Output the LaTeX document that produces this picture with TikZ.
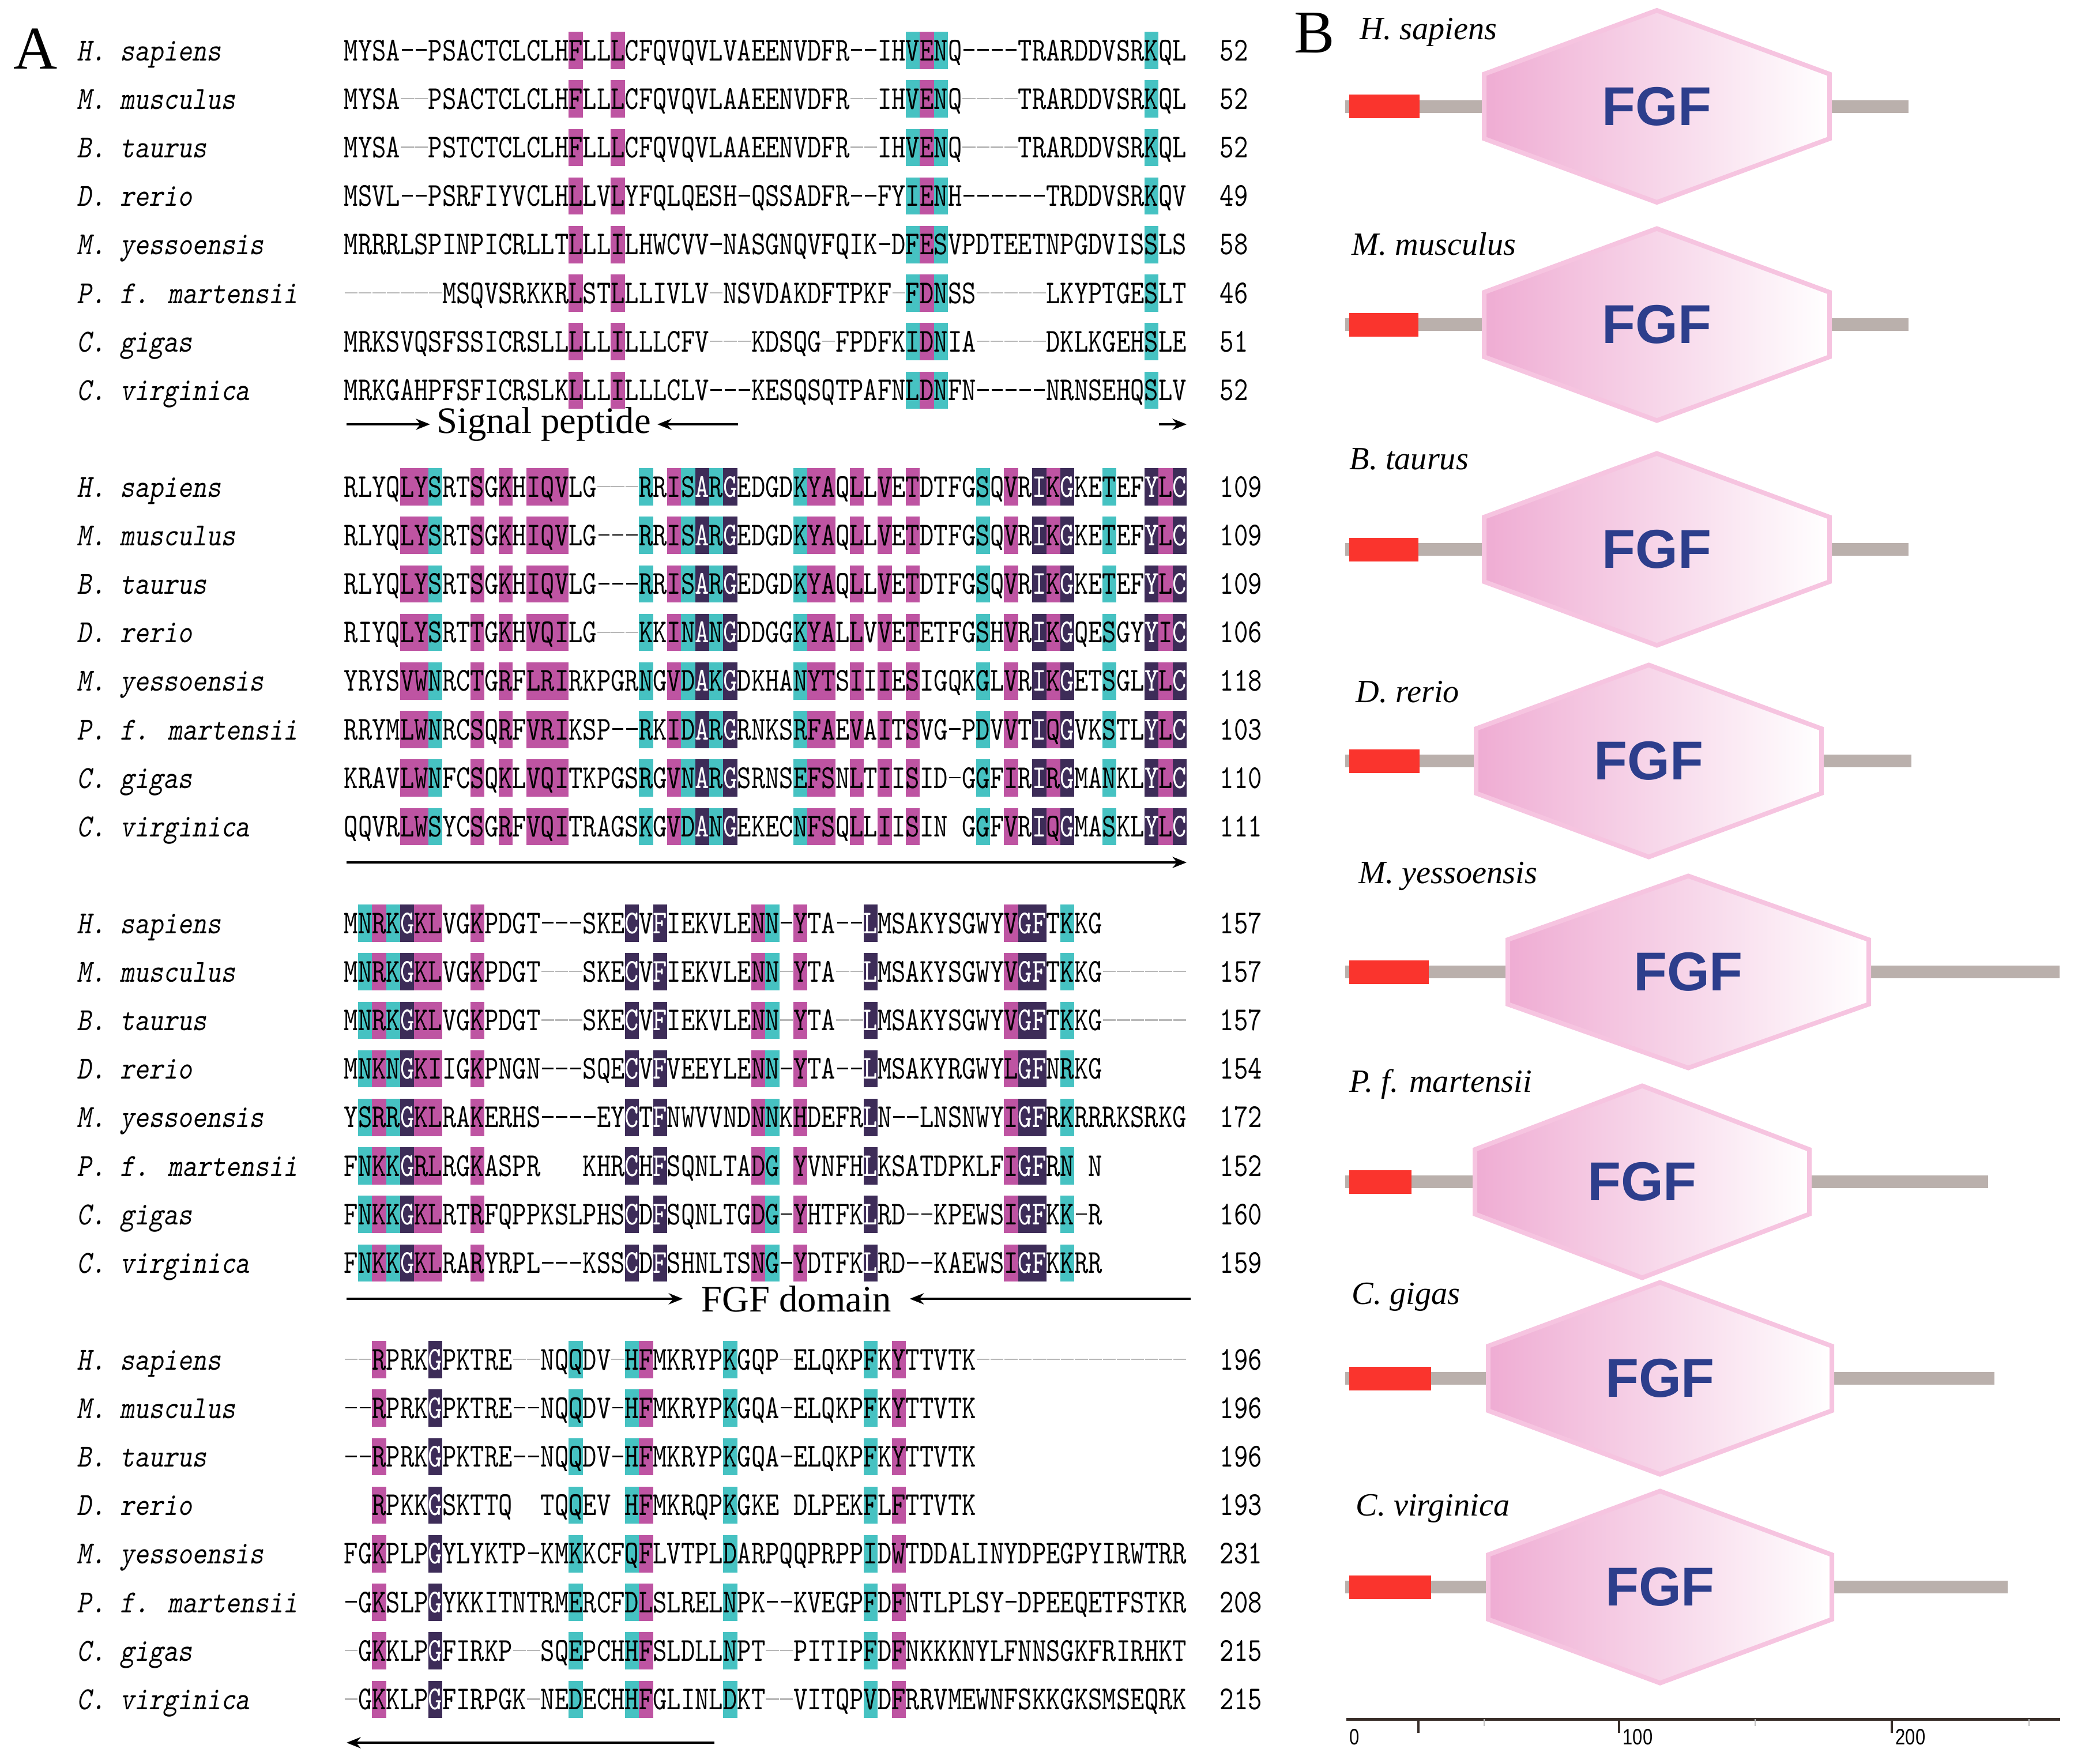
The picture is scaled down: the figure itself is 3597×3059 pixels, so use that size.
\documentclass[tikz,border=0pt]{standalone}
\usepackage{fontspec}
\setmainfont{Liberation Serif}
\newfontfamily\seqfam[FakeStretch=0.80]{lmmono10-regular.otf}
\newfontfamily\spfam[FakeStretch=0.85,FakeSlant=0.18]{lmmono10-regular.otf}
\newfontfamily\fgffam{Liberation Sans}
\newfontfamily\axfam[FakeStretch=0.8]{Liberation Sans}
\usetikzlibrary{arrows.meta}

\definecolor{hlmag}{RGB}{190,84,162}
\definecolor{hlcyan}{RGB}{70,194,194}
\definecolor{hlnavy}{RGB}{61,44,88}
\definecolor{sigred}{RGB}{250,52,45}
\definecolor{linkgrey}{RGB}{186,176,172}
\definecolor{hexpink}{RGB}{239,172,211}
\definecolor{hexedge}{RGB}{246,196,224}
\definecolor{fgfblue}{RGB}{45,62,140}
\definecolor{axisdark}{RGB}{55,45,40}

\newlength\cw
\setlength\fboxsep{0pt}
\newcommand\seqfont{\seqfam\fontsize{16.5pt}{16.5pt}\selectfont}
\newcommand\spfont{\spfam\fontsize{15.9pt}{16pt}\selectfont}
\newcommand\seqstrut{\rule[-4.2pt]{0pt}{18.4pt}}
\AtBeginDocument{\settowidth\cw{\seqfont M}\global\cw=\cw}
% highlighted residues
\newcommand\hlm[1]{\colorbox{hlmag}{\seqstrut#1}}
\newcommand\hlc[1]{\colorbox{hlcyan}{\seqstrut#1}}
\newcommand\hln[1]{\colorbox{hlnavy}{\seqstrut\textcolor{white}{#1}}}
% gaps
\newcommand\dk[1]{\cleaders\hbox to\cw{\hss\rule[4.8pt]{0.8\cw}{0.8pt}\hss}\hskip#1\cw\relax}
\newcommand\fg[1]{{\color{black!28}\cleaders\hbox to\cw{\hss\rule[4.8pt]{0.92\cw}{0.6pt}\hss}\hskip#1\cw\relax}}
\newcommand\bk[1]{\hskip#1\cw\relax}

\begin{document}
\begin{tikzpicture}[x=0.1mm,y=-0.1mm,
	seqrow/.style={anchor=base west,inner sep=0pt,font=\seqfont},
	seqnum/.style={anchor=base west,inner sep=0pt,font=\seqfont},
	spname/.style={anchor=base west,inner sep=0pt,font=\spfont},
	annot/.style={font=\fontsize{18.4pt}{20pt}\selectfont,inner ysep=0pt},
	annarrow/.style={line width=1.1pt,-{Stealth[length=7pt,width=5.5pt]}},
	panel/.style={font=\fontsize{30pt}{30pt}\selectfont,inner sep=0pt},
	bname/.style={anchor=base west,inner sep=0pt,font=\fontsize{16pt}{18pt}\selectfont\itshape},
	linker/.style={draw=linkgrey,line width=2.2mm},
	sigbox/.style={fill=sigred},
	hexdom/.style={draw=hexedge,line width=0.8mm,left color=hexpink,right color=white},
	fgflab/.style={font=\fgffam\bfseries\fontsize{27pt}{27pt}\selectfont,text=fgfblue},
	axisline/.style={draw=axisdark,line width=0.5mm},
	axistick/.style={draw=axisdark,line width=0.35mm},
	minortick/.style={draw=black!25,line width=0.2mm},
	axlab/.style={anchor=west,inner sep=0pt,font=\axfam\fontsize{11pt}{11pt}\selectfont}]
	\path[use as bounding box] (0,0) rectangle (3597,3059);

	% panel A
	\node[panel] (panA) at (62,85) {A};
	\foreach \blk in {0,1,2,3}
		\foreach \sp [count=\i from 0] in {H. sapiens,M. musculus,B. taurus,D. rerio,M. yessoensis,P. f. martensii,C. gigas,C. virginica}
			\node[spname] (name-\blk-\i) at (133,105+757*\blk+84.2*\i) {\sp};

	% block 1
	\node[seqrow] (b1r1) at (596,105) {MYSA\dk{2}PSACTCLCLH\hlm{F}LL\hlm{L}CFQVQVLVAEENVDFR\dk{2}IH\hlc{V}\hlm{E}\hlc{N}Q\dk{4}TRARDDVSR\hlc{K}QL};
	\node[seqrow] (b1r2) at (596,189.2) {MYSA\fg{2}PSACTCLCLH\hlm{F}LL\hlm{L}CFQVQVLAAEENVDFR\fg{2}IH\hlc{V}\hlm{E}\hlc{N}Q\fg{4}TRARDDVSR\hlc{K}QL};
	\node[seqrow] (b1r3) at (596,273.4) {MYSA\fg{2}PSTCTCLCLH\hlm{F}LL\hlm{L}CFQVQVLAAEENVDFR\fg{2}IH\hlc{V}\hlm{E}\hlc{N}Q\fg{4}TRARDDVSR\hlc{K}QL};
	\node[seqrow] (b1r4) at (596,357.6) {MSVL\dk{2}PSRFIYVCLH\hlm{L}LV\hlm{L}YFQLQESH\dk{1}QSSADFR\dk{2}FY\hlc{I}\hlm{E}\hlc{N}H\dk{6}TRDDVSR\hlc{K}QV};
	\node[seqrow] (b1r5) at (596,441.8) {MRRRLSPINPICRLLT\hlm{L}LL\hlm{I}LHWCVV\dk{1}NASGNQVFQIK\dk{1}D\hlc{F}\hlm{E}\hlc{S}VPDTEETNPGDVIS\hlc{S}LS};
	\node[seqrow] (b1r6) at (596,526) {\fg{7}MSQVSRKKR\hlm{L}ST\hlm{L}LLIVLV\fg{1}NSVDAKDFTPKF\fg{1}\hlc{F}\hlm{D}\hlc{N}SS\fg{5}LKYPTGE\hlc{S}LT};
	\node[seqrow] (b1r7) at (596,610.2) {MRKSVQSFSSICRSLL\hlm{L}LL\hlm{I}LLLCFV\fg{3}KDSQG\fg{1}FPDFK\hlc{I}\hlm{D}\hlc{N}IA\fg{5}DKLKGEH\hlc{S}LE};
	\node[seqrow] (b1r8) at (596,694.4) {MRKGAHPFSFICRSLK\hlm{L}LL\hlm{I}LLLCLV\dk{3}KESQSQTPAFN\hlc{L}\hlm{D}\hlc{N}FN\dk{5}NRNSEHQ\hlc{S}LV};
	\foreach \num [count=\i from 0] in {52,52,52,49,58,46,51,52}
		\node[seqnum] (n1-\i) at (2115,105+84.2*\i) {\num};
	\coordinate (sp-a) at (601,736);
	\coordinate (sp-b) at (1280,736);
	\coordinate (sp-c) at (2010,736);
	\coordinate (sp-d) at (2058,736);
	\node[annot,inner xsep=3pt] (sigpep) at (943,736) {Signal peptide};
	\draw[annarrow] (sp-a) -- (sigpep.west);
	\draw[annarrow] (sp-b) -- (sigpep.east);
	\draw[annarrow] (sp-c) -- (sp-d);

	% block 2
	\node[seqrow] (b2r1) at (596,862) {RLYQ\hlm{LY}\hlc{S}RT\hlm{S}G\hlm{K}H\hlm{IQV}LG\fg{3}\hlc{R}R\hlm{I}\hlc{S}\hln{A}\hlc{R}\hln{G}EDGD\hlc{K}\hlm{YA}Q\hlm{L}L\hlm{V}E\hlm{T}DTFG\hlc{S}Q\hlm{V}R\hln{I}\hlm{K}\hln{G}KE\hlc{T}EF\hln{Y}\hlm{L}\hln{C}};
	\node[seqrow] (b2r2) at (596,946.2) {RLYQ\hlm{LY}\hlc{S}RT\hlm{S}G\hlm{K}H\hlm{IQV}LG\dk{3}\hlc{R}R\hlm{I}\hlc{S}\hln{A}\hlc{R}\hln{G}EDGD\hlc{K}\hlm{YA}Q\hlm{L}L\hlm{V}E\hlm{T}DTFG\hlc{S}Q\hlm{V}R\hln{I}\hlm{K}\hln{G}KE\hlc{T}EF\hln{Y}\hlm{L}\hln{C}};
	\node[seqrow] (b2r3) at (596,1030.4) {RLYQ\hlm{LY}\hlc{S}RT\hlm{S}G\hlm{K}H\hlm{IQV}LG\dk{3}\hlc{R}R\hlm{I}\hlc{S}\hln{A}\hlc{R}\hln{G}EDGD\hlc{K}\hlm{YA}Q\hlm{L}L\hlm{V}E\hlm{T}DTFG\hlc{S}Q\hlm{V}R\hln{I}\hlm{K}\hln{G}KE\hlc{T}EF\hln{Y}\hlm{L}\hln{C}};
	\node[seqrow] (b2r4) at (596,1114.6) {RIYQ\hlm{LY}\hlc{S}RT\hlm{T}G\hlm{K}H\hlm{VQI}LG\fg{3}\hlc{K}K\hlm{I}\hlc{N}\hln{A}\hlc{N}\hln{G}DDGG\hlc{K}\hlm{YA}L\hlm{L}V\hlm{V}E\hlm{T}ETFG\hlc{S}H\hlm{V}R\hln{I}\hlm{K}\hln{G}QE\hlc{S}GY\hln{Y}\hlm{I}\hln{C}};
	\node[seqrow] (b2r5) at (596,1198.8) {YRYS\hlm{VW}\hlc{N}RC\hlm{T}G\hlm{R}F\hlm{LRI}RKPGR\hlc{N}G\hlm{V}\hlc{D}\hln{A}\hlc{K}\hln{G}DKHA\hlc{N}\hlm{YT}S\hlm{I}I\hlm{I}E\hlm{S}IGQK\hlc{G}L\hlm{V}R\hln{I}\hlm{K}\hln{G}ET\hlc{S}GL\hln{Y}\hlm{L}\hln{C}};
	\node[seqrow] (b2r6) at (596,1283) {RRYM\hlm{LW}\hlc{N}RC\hlm{S}Q\hlm{R}F\hlm{VRI}KSP\dk{2}\hlc{R}K\hlm{I}\hlc{D}\hln{A}\hlc{R}\hln{G}RNKS\hlc{R}\hlm{FA}E\hlm{V}A\hlm{I}T\hlm{S}VG\dk{1}P\hlc{D}V\hlm{V}T\hln{I}\hlm{Q}\hln{G}VK\hlc{S}TL\hln{Y}\hlm{L}\hln{C}};
	\node[seqrow] (b2r7) at (596,1367.2) {KRAV\hlm{LW}\hlc{N}FC\hlm{S}Q\hlm{K}L\hlm{VQI}TKPGS\hlc{R}G\hlm{V}\hlc{N}\hln{A}\hlc{R}\hln{G}SRNS\hlc{E}\hlm{FS}N\hlm{L}T\hlm{I}I\hlm{S}ID\dk{1}G\hlc{G}F\hlm{I}R\hln{I}\hlm{R}\hln{G}MA\hlc{N}KL\hln{Y}\hlm{L}\hln{C}};
	\node[seqrow] (b2r8) at (596,1451.4) {QQVR\hlm{LW}\hlc{S}YC\hlm{S}G\hlm{R}F\hlm{VQI}TRAGS\hlc{K}G\hlm{V}\hlc{D}\hln{A}\hlc{N}\hln{G}EKEC\hlc{N}\hlm{FS}Q\hlm{L}L\hlm{I}I\hlm{S}IN\bk{1}G\hlc{G}F\hlm{V}R\hln{I}\hlm{Q}\hln{G}MA\hlc{S}KL\hln{Y}\hlm{L}\hln{C}};
	\foreach \num [count=\i from 0] in {109,109,109,106,118,103,110,111}
		\node[seqnum] (n2-\i) at (2115,862+84.2*\i) {\num};
	\coordinate (fd-a) at (601,1496);
	\coordinate (fd-b) at (2058,1496);
	\draw[annarrow] (fd-a) -- (fd-b);

	% block 3
	\node[seqrow] (b3r1) at (596,1619) {M\hlc{N}\hlm{R}\hlc{K}\hln{G}\hlm{KL}VG\hlm{K}PDGT\dk{3}SKE\hln{C}V\hln{F}IEKVLE\hlm{N}\hlc{N}\dk{1}\hlm{Y}TA\dk{2}\hln{L}MSAKYSGWY\hlm{V}\hln{GF}T\hlc{K}KG\dk{6}};
	\node[seqrow] (b3r2) at (596,1703.2) {M\hlc{N}\hlm{R}\hlc{K}\hln{G}\hlm{KL}VG\hlm{K}PDGT\fg{3}SKE\hln{C}V\hln{F}IEKVLE\hlm{N}\hlc{N}\fg{1}\hlm{Y}TA\fg{2}\hln{L}MSAKYSGWY\hlm{V}\hln{GF}T\hlc{K}KG\fg{6}};
	\node[seqrow] (b3r3) at (596,1787.4) {M\hlc{N}\hlm{R}\hlc{K}\hln{G}\hlm{KL}VG\hlm{K}PDGT\fg{3}SKE\hln{C}V\hln{F}IEKVLE\hlm{N}\hlc{N}\fg{1}\hlm{Y}TA\fg{2}\hln{L}MSAKYSGWY\hlm{V}\hln{GF}T\hlc{K}KG\fg{6}};
	\node[seqrow] (b3r4) at (596,1871.6) {M\hlc{N}\hlm{K}\hlc{N}\hln{G}\hlm{KI}IG\hlm{K}PNGN\dk{3}SQE\hln{C}V\hln{F}VEEYLE\hlm{N}\hlc{N}\dk{1}\hlm{Y}TA\dk{2}\hln{L}MSAKYRGWY\hlm{L}\hln{GF}N\hlc{R}KG\dk{6}};
	\node[seqrow] (b3r5) at (596,1955.8) {Y\hlc{S}\hlm{R}\hlc{R}\hln{G}\hlm{KL}RA\hlm{K}ERHS\dk{4}EY\hln{C}T\hln{F}NWVVND\hlm{N}\hlc{N}K\hlm{H}DEFR\hln{L}N\dk{2}LNSNWY\hlm{I}\hln{GF}R\hlc{K}RRRKSRKG};
	\node[seqrow] (b3r6) at (596,2040) {F\hlc{N}\hlm{K}\hlc{K}\hln{G}\hlm{RL}RG\hlm{K}ASPR\bk{3}KHR\hln{C}H\hln{F}SQNLTA\hlm{D}\hlc{G}\bk{1}\hlm{Y}VNFH\hln{L}KSATDPKLF\hlm{I}\hln{GF}R\hlc{N}\bk{1}N\bk{6}};
	\node[seqrow] (b3r7) at (596,2124.2) {F\hlc{N}\hlm{K}\hlc{K}\hln{G}\hlm{KL}RT\hlm{R}FQPPKSLPHS\hln{C}D\hln{F}SQNLTG\hlm{D}\hlc{G}\dk{1}\hlm{Y}HTFK\hln{L}RD\dk{2}KPEWS\hlm{I}\hln{GF}K\hlc{K}\dk{1}R\dk{6}};
	\node[seqrow] (b3r8) at (596,2208.4) {F\hlc{N}\hlm{K}\hlc{K}\hln{G}\hlm{KL}RA\hlm{R}YRPL\dk{3}KSS\hln{C}D\hln{F}SHNLTS\hlm{N}\hlc{G}\dk{1}\hlm{Y}DTFK\hln{L}RD\dk{2}KAEWS\hlm{I}\hln{GF}K\hlc{K}RR\dk{6}};
	\foreach \num [count=\i from 0] in {157,157,157,154,172,152,160,159}
		\node[seqnum] (n3-\i) at (2115,1619+84.2*\i) {\num};
	\coordinate (fd-c) at (601,2253);
	\coordinate (fd-d) at (2065,2253);
	\node[annot,inner xsep=9pt] (fgfdom) at (1381,2253) {FGF domain};
	\draw[annarrow] (fd-c) -- (fgfdom.west);
	\draw[annarrow] (fd-d) -- (fgfdom.east);

	% block 4
	\node[seqrow] (b4r1) at (596,2376) {\fg{2}\hlm{R}PRK\hln{G}PKTRE\fg{2}NQ\hlc{Q}DV\fg{1}\hlc{H}\hlm{F}MKRYP\hlc{K}GQP\fg{1}ELQKP\hlc{F}K\hlm{Y}TTVTK\fg{15}};
	\node[seqrow] (b4r2) at (596,2460.2) {\dk{2}\hlm{R}PRK\hln{G}PKTRE\dk{2}NQ\hlc{Q}DV\dk{1}\hlc{H}\hlm{F}MKRYP\hlc{K}GQA\dk{1}ELQKP\hlc{F}K\hlm{Y}TTVTK\dk{15}};
	\node[seqrow] (b4r3) at (596,2544.4) {\dk{2}\hlm{R}PRK\hln{G}PKTRE\dk{2}NQ\hlc{Q}DV\dk{1}\hlc{H}\hlm{F}MKRYP\hlc{K}GQA\dk{1}ELQKP\hlc{F}K\hlm{Y}TTVTK\dk{15}};
	\node[seqrow] (b4r4) at (596,2628.6) {\bk{2}\hlm{R}PKK\hln{G}SKTTQ\bk{2}TQ\hlc{Q}EV\bk{1}\hlc{H}\hlm{F}MKRQP\hlc{K}GKE\bk{1}DLPEK\hlc{F}L\hlm{F}TTVTK};
	\node[seqrow] (b4r5) at (596,2712.8) {FG\hlm{K}PLP\hln{G}YLYKTP\dk{1}KM\hlc{K}KCF\hlc{Q}\hlm{F}LVTPL\hlc{D}ARPQQPRPP\hlc{I}D\hlm{W}TDDALINYDPEGPYIRWTRR};
	\node[seqrow] (b4r6) at (596,2797) {\dk{1}G\hlm{K}SLP\hln{G}YKKITNTRM\hlc{E}RCF\hlc{D}\hlm{L}SLREL\hlc{N}PK\dk{2}KVEGP\hlc{F}D\hlm{F}NTLPLSY\dk{1}DPEEQETFSTKR};
	\node[seqrow] (b4r7) at (596,2881.2) {\fg{1}G\hlm{K}KLP\hln{G}FIRKP\fg{2}SQ\hlc{E}PCH\hlc{H}\hlm{F}SLDLL\hlc{N}PT\fg{2}PITIP\hlc{F}D\hlm{F}NKKKNYLFNNSGKFRIRHKT};
	\node[seqrow] (b4r8) at (596,2965.4) {\fg{1}G\hlm{K}KLP\hln{G}FIRPGK\fg{1}NE\hlc{D}ECH\hlc{H}\hlm{F}GLINL\hlc{D}KT\fg{2}VITQP\hlc{V}D\hlm{F}RRVMEWNFSKKGKSMSEQRK};
	\foreach \num [count=\i from 0] in {196,196,196,193,231,208,215,215}
		\node[seqnum] (n4-\i) at (2115,2376+84.2*\i) {\num};
	\coordinate (fd-e) at (1239,3023);
	\coordinate (fd-f) at (601,3023);
	\draw[annarrow] (fd-e) -- (fd-f);

	% panel B
	\node[panel] (panB) at (2280,57) {B};
	\foreach \lx/\ly/\nm [count=\p] in {2358/68/H. sapiens,2344/442/M. musculus,2340/814/B. taurus,2351/1218/D. rerio,2356/1532/M. yessoensis,2340/1894/P. f. martensii,2344/2262/C. gigas,2351/2629/C. virginica}
		\node[bname] (bname\p) at (\lx,\ly) {\nm};
	\foreach \cy/\rw/\hl/\hr/\le [count=\p] in {184.5/122/2574/3173/3310,563/120/2574/3173/3310,953/120/2574/3173/3310,1320/122/2560/3159/3315,1686/138/2615/3241/3572,2050/108/2558/3138/3448,2391/142/2581/3177/3459,2753/142/2581/3177/3482}{
		\draw[linker] (2333,\cy) -- (\le,\cy);
		\fill[sigbox] (2340,\cy-20.5) rectangle ++(\rw,41);
		\path[hexdom] (\hl,\cy-56) -- ({(\hl+\hr)/2},\cy-166.5) -- (\hr,\cy-56) -- (\hr,\cy+56)
			-- ({(\hl+\hr)/2},\cy+166.5) -- (\hl,\cy+56) -- cycle;
		\node[fgflab] (fgf\p) at ({(\hl+\hr)/2},\cy) {FGF};
	}

	% scale
	\draw[axisline] (2335,2982) -- (3573,2982);
	\foreach \tx in {2460,2808,3281}
		\draw[axistick] (\tx,2982) -- (\tx,3006);
	\foreach \tx in {2574,3044,3519}
		\draw[minortick] (\tx,2982) -- (\tx,2994);
	\foreach \tx/\tl in {2340/0,2814/100,3287/200}
		\node[axlab] (ax\tl) at (\tx,3013) {\tl};
\end{tikzpicture}
\end{document}
